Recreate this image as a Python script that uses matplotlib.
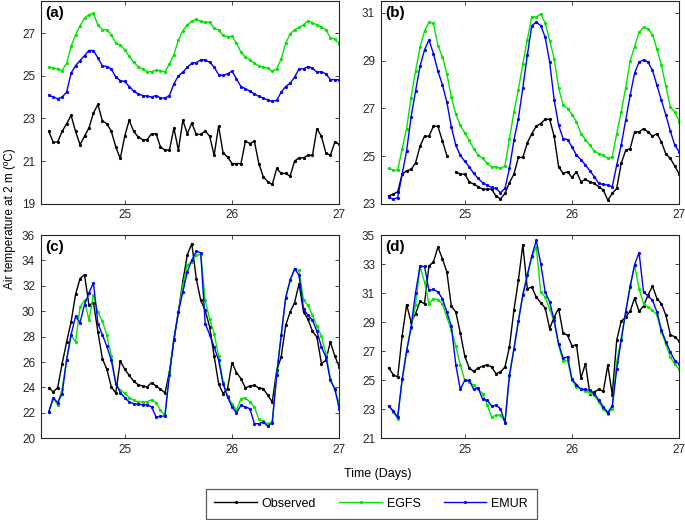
import matplotlib
matplotlib.use("Agg")
import matplotlib.pyplot as plt
import numpy as np

plt.rcParams["font.family"] = ["Liberation Sans", "DejaVu Sans"]

# hourly time axis: hour 7 of day 24 to hour 0 of day 27
hours = np.arange(7, 73)
days = 24 + hours / 24.0

# panel (a)
a_obs = [22.39, 21.89, 21.89, 22.39, 22.75, 23.14, 22.39, 21.77, 22.16, 22.55,
         23.25, 23.65, 22.88, 22.75, 22.39, 21.66, 21.12, 22.16, 22.91, 22.39,
         22.13, 22.00, 22.00, 22.28, 22.28, 21.66, 21.51, 21.51, 22.55, 21.51,
         22.91, 22.28, 22.78, 22.25, 22.25, 22.41, 22.16, 21.27, 22.64, 21.38,
         21.19, 20.88, 20.88, 20.88, 21.93, 21.82, 21.93, 20.88, 20.26, 20.03,
         19.90, 20.65, 20.42, 20.42, 20.29, 21.00, 21.15, 21.15, 21.27, 21.27,
         22.52, 22.16, 21.38, 21.27, 21.89, 21.79]
a_egfs = [25.40, 25.35, 25.33, 25.24, 25.58, 26.38, 26.91, 27.34, 27.70, 27.86,
          27.92, 27.37, 27.16, 27.14, 26.91, 26.53, 26.44, 26.21, 25.91, 25.63,
          25.43, 25.32, 25.19, 25.19, 25.26, 25.24, 25.18, 25.55, 25.99, 26.67,
          27.11, 27.39, 27.54, 27.65, 27.54, 27.51, 27.50, 27.23, 27.14, 26.89,
          26.83, 26.84, 26.53, 26.10, 25.86, 25.75, 25.58, 25.46, 25.40, 25.35,
          25.21, 25.32, 25.79, 26.52, 26.95, 27.16, 27.26, 27.39, 27.58, 27.47,
          27.39, 27.26, 27.16, 26.77, 26.72, 26.49]
a_emur = [24.09, 24.00, 23.92, 24.00, 24.23, 25.12, 25.47, 25.71, 25.94, 26.18,
          26.18, 25.83, 25.46, 25.43, 25.32, 24.93, 24.77, 24.73, 24.49, 24.28,
          24.15, 24.07, 24.04, 24.00, 24.07, 23.96, 23.95, 24.07, 24.62, 24.99,
          25.16, 25.40, 25.58, 25.61, 25.74, 25.74, 25.63, 25.40, 25.05, 25.01,
          25.09, 25.21, 24.85, 24.49, 24.39, 24.28, 24.15, 24.03, 23.95, 23.87,
          23.79, 23.84, 24.23, 24.49, 24.65, 24.93, 25.32, 25.32, 25.43, 25.35,
          25.16, 25.19, 25.08, 24.82, 24.81, 24.81]

# panel (b)
b_obs = [23.33, 23.40, 23.50, 24.24, 24.38, 24.44, 24.71, 25.41, 25.83, 25.83,
         26.25, 26.25, 25.63, 25.02, np.nan, 24.34, 24.24, 24.24, 23.92, 23.82,
         23.71, 23.61, 23.61, 23.61, 23.32, 23.20, 23.43, 23.88, 24.24, 24.94,
         24.94, 25.55, 25.94, 26.25, 26.36, 26.54, 26.54, 25.83, 24.55, 24.27,
         24.34, 24.10, 24.34, 23.92, 24.02, 23.92, 23.85, 23.71, 23.57, 23.15,
         23.43, 23.64, 24.69, 25.24, 25.31, 26.01, 26.01, 26.15, 26.01, 25.83,
         25.94, 25.59, 25.08, 24.90, 24.57, 24.24]
b_egfs = [24.48, 24.41, 24.41, 25.31, 26.15, 27.45, 28.56, 29.56, 30.23, 30.61,
          30.57, 29.63, 29.17, 28.45, 27.47, 26.75, 26.29, 25.97, 25.66, 25.31,
          25.03, 24.90, 24.69, 24.55, 24.55, 24.48, 24.59, 25.73, 26.83, 27.78,
          28.87, 29.87, 30.85, 30.82, 30.96, 30.57, 29.84, 29.08, 27.86, 27.15,
          26.99, 26.74, 26.43, 25.94, 25.69, 25.45, 25.20, 25.10, 25.03, 24.90,
          24.97, 25.94, 26.85, 27.86, 28.98, 29.59, 30.19, 30.40, 30.33, 30.09,
          29.49, 28.80, 27.92, 27.06, 26.85, 26.43]
b_emur = [23.26, 23.20, 23.25, 24.24, 25.22, 26.64, 27.72, 28.76, 29.45, 29.87,
          29.29, 28.56, 27.99, 27.26, 26.22, 25.45, 25.03, 24.78, 24.55, 24.27,
          24.06, 23.88, 23.78, 23.68, 23.64, 23.46, 23.64, 24.48, 25.66, 26.57,
          27.86, 29.22, 30.47, 30.61, 30.47, 29.98, 28.94, 27.36, 26.29, 25.73,
          25.69, 25.38, 25.03, 24.85, 24.62, 24.38, 24.13, 23.85, 23.81, 23.78,
          23.71, 24.62, 25.45, 26.50, 27.54, 28.48, 28.94, 29.03, 28.94, 28.59,
          27.96, 27.33, 26.71, 26.04, 25.45, 25.17]

# panel (c)
c_obs = [23.99, 23.65, 23.99, 25.88, 27.58, 29.16, 31.33, 32.57, 32.88, 30.47,
         30.68, 28.37, 26.27, 25.43, 24.04, 23.57, 26.09, 25.43, 24.96, 24.49,
         24.22, 24.12, 24.04, 24.38, 24.12, 23.86, 23.57, 25.20, 27.71, 29.94,
         32.36, 34.45, 35.32, 32.57, 30.86, 30.07, 28.76, 26.48, 24.30, 23.52,
         23.91, 25.95, 25.17, 24.70, 23.96, 24.12, 24.17, 23.96, 23.91, 23.38,
         22.86, 25.35, 26.40, 28.89, 29.94, 30.68, 32.17, 29.94, 29.37, 28.42,
         27.97, 25.88, 26.14, 27.58, 26.48, 25.61]
c_egfs = [22.07, 23.12, 22.65, 23.91, 26.14, 28.11, 27.58, 30.34, 30.86, 29.29,
          31.31, 29.94, 29.21, 28.11, 26.48, 24.30, 23.78, 23.57, 23.20, 22.99,
          22.86, 22.86, 22.86, 23.04, 22.81, 22.20, 21.81, 25.22, 27.84, 29.94,
          32.04, 33.61, 33.90, 34.40, 34.50, 30.86, 29.37, 28.24, 26.48, 24.43,
          23.33, 22.73, 22.20, 23.12, 23.17, 22.86, 22.47, 21.50, 21.34, 21.15,
          21.29, 25.22, 28.11, 31.12, 32.43, 33.30, 33.22, 30.86, 30.47, 29.68,
          28.84, 28.05, 26.66, 24.70, 23.78, 22.73]
c_emur = [22.07, 23.20, 22.81, 23.52, 26.19, 28.16, 29.60, 29.10, 30.52, 31.44,
          32.25, 29.02, 28.16, 27.24, 26.14, 24.30, 23.59, 23.20, 22.86, 22.73,
          22.68, 22.65, 22.65, 22.47, 21.68, 21.73, 21.76, 25.01, 27.79, 29.94,
          31.52, 33.09, 34.01, 34.72, 34.61, 29.02, 28.16, 27.19, 26.14, 24.30,
          23.25, 22.47, 21.99, 22.60, 22.47, 22.33, 21.15, 21.15, 21.29, 20.94,
          21.23, 24.96, 28.11, 31.04, 32.43, 33.35, 32.83, 30.15, 29.68, 29.29,
          28.42, 27.19, 26.40, 24.56, 23.91, 22.28]

# panel (d)
d_obs = [25.87, 25.38, 25.22, 28.05, 30.20, 29.01, 29.58, 30.43, 30.27, 32.87,
         33.14, 34.17, 33.37, 32.45, 30.11, 29.70, 28.28, 26.67, 25.84, 25.61,
         25.84, 25.96, 26.07, 25.91, 25.45, 25.57, 25.91, 27.29, 29.81, 31.88,
         34.33, 31.30, 31.42, 30.73, 30.34, 29.97, 28.55, 29.35, 29.93, 28.25,
         28.09, 27.36, 27.45, 25.15, 26.14, 24.08, 24.19, 24.37, 24.24, 26.03,
         24.01, 27.75, 29.06, 29.35, 29.74, 30.66, 29.74, 30.11, 30.85, 31.49,
         30.62, 30.27, 29.47, 28.14, 27.98, 27.68]
d_egfs = [23.23, 22.81, 22.35, 25.06, 27.06, 28.60, 30.20, 32.84, 31.76, 30.27,
          30.62, 30.55, 30.27, 29.35, 28.44, 27.36, 26.07, 24.99, 24.88, 24.65,
          24.37, 24.08, 23.32, 22.47, 22.58, 22.58, 22.12, 25.29, 27.17, 29.06,
          30.96, 32.22, 33.49, 34.17, 31.08, 30.73, 29.88, 29.06, 27.40, 26.30,
          26.37, 24.99, 24.53, 24.42, 24.24, 24.14, 23.96, 23.50, 23.00, 22.70,
          23.04, 26.26, 27.86, 29.70, 31.53, 32.91, 31.31, 30.27, 30.04, 29.81,
          29.50, 28.33, 27.47, 26.60, 26.10, 25.75]
d_emur = [23.23, 22.88, 22.47, 25.06, 26.99, 28.67, 31.03, 32.84, 32.84, 31.19,
          31.26, 31.08, 30.62, 29.70, 28.73, 26.07, 24.37, 24.99, 24.99, 24.37,
          24.47, 23.69, 23.62, 23.23, 23.27, 23.04, 22.08, 25.34, 27.13, 29.06,
          30.85, 32.22, 33.55, 34.63, 33.03, 31.08, 30.39, 29.12, 27.52, 26.53,
          26.60, 25.06, 24.70, 24.37, 24.37, 24.30, 24.08, 23.62, 23.16, 22.77,
          23.23, 25.75, 27.75, 29.70, 31.42, 32.96, 33.78, 31.08, 30.80, 30.50,
          29.70, 28.44, 27.65, 26.95, 26.35, 26.12]

labels = ["(a)", "(b)", "(c)", "(d)"]
y_limits = [(19, 28.5), (23, 31.5), (20, 36), (21, 35)]
y_ticks = [[19, 21, 23, 25, 27], [23, 25, 27, 29, 31],
           [20, 22, 24, 26, 28, 30, 32, 34, 36], [21, 23, 25, 27, 29, 31, 33, 35]]
x_ticks = [25, 26, 27]

series_names = ["Observed", "EGFS", "EMUR"]
series_colors = ["black", "#00e600", "#0000ff"]

FIG_W, FIG_H = 685, 520


def axes_rect(left, top, right, bottom):
    return [left / FIG_W, 1 - bottom / FIG_H, (right - left) / FIG_W, (bottom - top) / FIG_H]


def draw_panel(ax, label, obs, egfs, emur, ylim, yticks):
    handles = []
    for vals, color in zip([obs, egfs, emur], series_colors):
        h, = ax.plot(days, vals, "-", color=color, lw=1.0, marker=".", ms=2.6)
        handles.append(h)
    ax.set_xlim(24.2167, 27)
    ax.set_ylim(*ylim)
    ax.set_xticks(x_ticks)
    ax.set_yticks(yticks)
    ax.tick_params(direction="in", top=True, right=True, length=3, width=0.6,
                   labelsize=8.5, pad=4, colors="#262626")
    for sp in ax.spines.values():
        sp.set_color("#262626")
        sp.set_linewidth(0.8)
    ax.text(0.015, 0.975, label, transform=ax.transAxes, fontsize=11,
            fontweight="bold", va="top", ha="left")
    return handles


def main() -> None:
    fig = plt.figure(figsize=(FIG_W / 100, FIG_H / 100), dpi=100)
    rects = [
        axes_rect(40.7, 1.0, 339.3, 203.7),
        axes_rect(380.7, 1.0, 679.3, 203.7),
        axes_rect(40.7, 235.0, 339.3, 438.3),
        axes_rect(380.7, 235.0, 679.3, 438.3),
    ]
    data = [(a_obs, a_egfs, a_emur), (b_obs, b_egfs, b_emur),
            (c_obs, c_egfs, c_emur), (d_obs, d_egfs, d_emur)]

    handles = None
    for rect, label, (obs, egfs, emur), ylim, yt in zip(rects, labels, data, y_limits, y_ticks):
        ax = fig.add_axes(rect)
        handles = draw_panel(ax, label, obs, egfs, emur, ylim, yt)

    fig.text(10 / FIG_W, 1 - 219 / FIG_H, "Air temperature at 2 m (ºC)", rotation=90,
             ha="center", va="center", fontsize=8.5)
    fig.text(378 / FIG_W, 1 - 474 / FIG_H, "Time (Days)", ha="center", va="center", fontsize=9)

    leg = fig.legend(handles, series_names, loc="center", ncol=3,
                     bbox_to_anchor=(371.2 / FIG_W, 1 - 503.8 / FIG_H),
                     fontsize=9, frameon=True, fancybox=False, handlelength=3.4,
                     handletextpad=0.4, columnspacing=1.85, borderpad=0.7,
                     borderaxespad=0)
    leg.get_frame().set_edgecolor("#333333")
    leg.get_frame().set_linewidth(0.9)

    fig.savefig("out.png", dpi=100)
    plt.close(fig)


if __name__ == "__main__":
    main()
